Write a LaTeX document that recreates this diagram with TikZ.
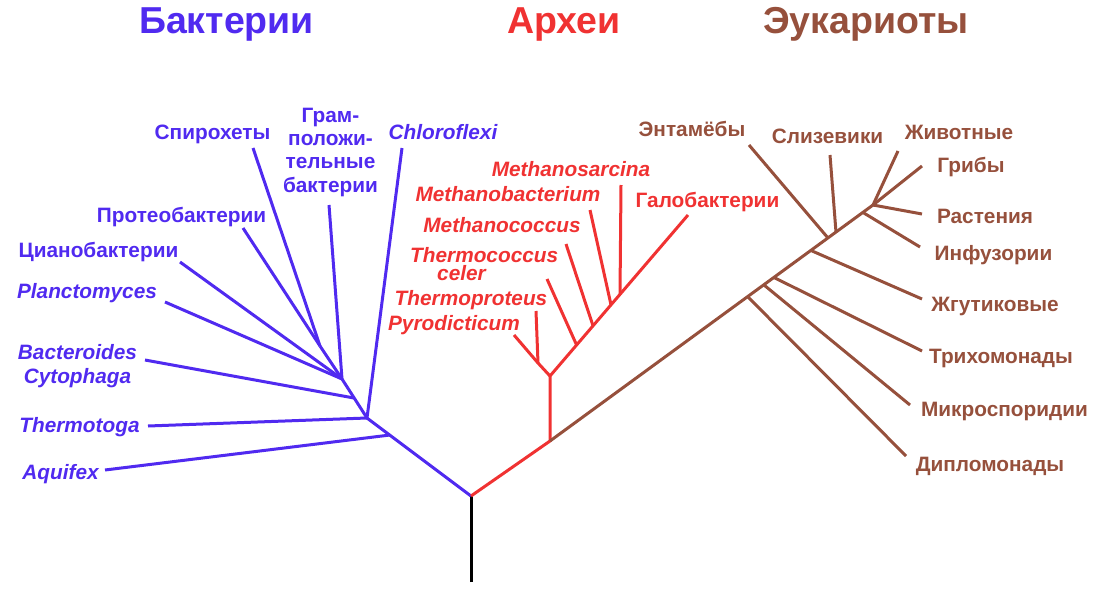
\documentclass[tikz,border=0pt]{standalone}
\usepackage{fontspec}
\setmainfont{Liberation Sans}
\definecolor{bactblue}{RGB}{80,42,240}
\definecolor{archred}{RGB}{240,50,50}
\definecolor{eukbrown}{RGB}{150,80,60}
\begin{document}
\begin{tikzpicture}[x=1pt,y=-1pt,
    branch/.style={line width=3pt},
    lbl/.style={font=\fontsize{20.8}{23.3}\selectfont\bfseries,inner sep=0pt,anchor=base,align=center},
    taxon/.style={lbl,font=\fontsize{20.8}{23.3}\selectfont\bfseries\itshape},
    domainlbl/.style={font=\fontsize{37.5}{40}\selectfont\bfseries,inner sep=0pt,anchor=base}]
  \useasboundingbox (0,0) rectangle (1100,597);

  % domains
  \node[domainlbl, bactblue] (bacteria) at (226.5,33.5) {Бактерии};
  \node[domainlbl, archred] (archaea) at (564,33.5) {Археи};
  \node[domainlbl, eukbrown] (eukarya) at (866,33.5) {Эукариоты};

  % root and junctions
  \coordinate (root) at (471,582);
  \coordinate (fork) at (471,496);
  \coordinate (aqJ) at (390,435);
  \coordinate (bacJ) at (367,418);
  \coordinate (cytJ) at (354,398);
  \coordinate (grJ) at (342,379);
  \coordinate (spJ) at (320,346);
  \coordinate (neoJ) at (550,441);
  \coordinate (arJ) at (550,376);
  \coordinate (crJ) at (538,363);
  \coordinate (thcJ) at (576.6,345);
  \coordinate (mcJ) at (593,325.8);
  \coordinate (mbJ) at (611,304.8);
  \coordinate (msJ) at (620,294.3);
  \coordinate (diJ) at (748,297);
  \coordinate (miJ) at (764,285);
  \coordinate (trJ) at (774,277.5);
  \coordinate (zhJ) at (811,250.5);
  \coordinate (enJ) at (828,238);
  \coordinate (slJ) at (836,232.3);
  \coordinate (inJ) at (863,212.5);
  \coordinate (crownJ) at (873,205);

  % tips
  \coordinate (aquifexT) at (105,470);
  \coordinate (thermotogaT) at (148,426);
  \coordinate (chloroT) at (402,148);
  \coordinate (cytoT) at (145,360);
  \coordinate (gramT) at (329,205);
  \coordinate (cyanoT) at (180,262);
  \coordinate (planctoT) at (165,302);
  \coordinate (spiroT) at (253,148);
  \coordinate (proteoT) at (243,228);
  \coordinate (pyroT) at (514,335);
  \coordinate (tprotT) at (536,311);
  \coordinate (tcocT) at (547,279);
  \coordinate (mcocT) at (566,244);
  \coordinate (mbacT) at (590,210);
  \coordinate (msarT) at (621,185);
  \coordinate (haloT) at (688,215);
  \coordinate (diploT) at (906,456);
  \coordinate (microT) at (910,405);
  \coordinate (trichoT) at (922,351);
  \coordinate (zhgutT) at (922,299);
  \coordinate (entamT) at (749,145);
  \coordinate (slimeT) at (830,155);
  \coordinate (infusT) at (920,247);
  \coordinate (plantT) at (922,214);
  \coordinate (fungiT) at (922,166);
  \coordinate (animalT) at (898,151);

  % bacteria
  \draw[branch, black] (root) -- (fork);
  \draw[branch, bactblue] (fork) -- (bacJ) -- (grJ) -- (spJ);
  \draw[branch, bactblue] (aqJ) -- (aquifexT);
  \draw[branch, bactblue] (bacJ) -- (thermotogaT);
  \draw[branch, bactblue] (bacJ) -- (chloroT);
  \draw[branch, bactblue] (cytJ) -- (cytoT);
  \draw[branch, bactblue] (grJ) -- (gramT);
  \draw[branch, bactblue] (grJ) -- (cyanoT);
  \draw[branch, bactblue] (grJ) -- (planctoT);
  \draw[branch, bactblue] (spJ) -- (spiroT);
  \draw[branch, bactblue] (spJ) -- (proteoT);

  % archaea
  \draw[branch, archred] (fork) -- (neoJ) -- (arJ) -- (haloT);
  \draw[branch, archred] (arJ) -- (crJ) -- (pyroT);
  \draw[branch, archred] (crJ) -- (tprotT);
  \draw[branch, archred] (thcJ) -- (tcocT);
  \draw[branch, archred] (mcJ) -- (mcocT);
  \draw[branch, archred] (mbJ) -- (mbacT);
  \draw[branch, archred] (msJ) -- (msarT);

  % eukaryotes
  \draw[branch, eukbrown] (neoJ) -- (crownJ);
  \draw[branch, eukbrown] (diJ) -- (diploT);
  \draw[branch, eukbrown] (miJ) -- (microT);
  \draw[branch, eukbrown] (trJ) -- (trichoT);
  \draw[branch, eukbrown] (zhJ) -- (zhgutT);
  \draw[branch, eukbrown] (enJ) -- (entamT);
  \draw[branch, eukbrown] (slJ) -- (slimeT);
  \draw[branch, eukbrown] (inJ) -- (infusT);
  \draw[branch, eukbrown] (crownJ) -- (plantT);
  \draw[branch, eukbrown] (crownJ) -- (fungiT);
  \draw[branch, eukbrown] (crownJ) -- (animalT);

  % bacteria labels
  \node[lbl, bactblue] (spiro) at (212.5,139) {Спирохеты};
  \node[lbl, bactblue] (gram) at (330.5,192) {Грам-\\положи-\\тельные\\бактерии};
  \node[taxon, bactblue] (chloro) at (443,139) {Chloroflexi};
  \node[lbl, bactblue] (proteo) at (181.5,222.7) {Протеобактерии};
  \node[lbl, bactblue] (cyano) at (98.5,257.7) {Цианобактерии};
  \node[taxon, bactblue] (plancto) at (87,298) {Planctomyces};
  \node[taxon, bactblue] (cyto) at (77.5,383) {Bacteroides\\Cytophaga};
  \node[taxon, bactblue] (thermotoga) at (79.5,432.7) {Thermotoga};
  \node[taxon, bactblue] (aquifex) at (60.5,479) {Aquifex};

  % archaea labels
  \node[taxon, archred] (msar) at (571,176) {Methanosarcina};
  \node[taxon, archred] (mbac) at (508,201.7) {Methanobacterium};
  \node[taxon, archred] (mcoc) at (502,232.7) {Methanococcus};
  \node[taxon, archred, align=left, anchor=base west,
    font=\fontsize{20.8}{17.3}\selectfont\bfseries\itshape] (tcoc) at (410,280)
    {Thermococcus\\\hspace*{27pt}celer};
  \node[taxon, archred] (tprot) at (471,305.7) {Thermoproteus};
  \node[taxon, archred] (pyro) at (454,330) {Pyrodicticum};
  \node[lbl, archred] (halo) at (707.5,207) {Галобактерии};

  % eukaryote labels
  \node[lbl, eukbrown] (entam) at (692,136.7) {Энтамёбы};
  \node[lbl, eukbrown] (slime) at (827.5,143) {Слизевики};
  \node[lbl, eukbrown] (animal) at (959,139) {Животные};
  \node[lbl, eukbrown] (fungi) at (971,172.7) {Грибы};
  \node[lbl, eukbrown] (plant) at (985,223) {Растения};
  \node[lbl, eukbrown] (infus) at (993.5,260) {Инфузории};
  \node[lbl, eukbrown] (zhgut) at (995,311.7) {Жгутиковые};
  \node[lbl, eukbrown] (tricho) at (1001,363) {Трихомонады};
  \node[lbl, eukbrown] (micro) at (1004.5,416.7) {Микроспоридии};
  \node[lbl, eukbrown] (diplo) at (990,471) {Дипломонады};
\end{tikzpicture}
\end{document}
